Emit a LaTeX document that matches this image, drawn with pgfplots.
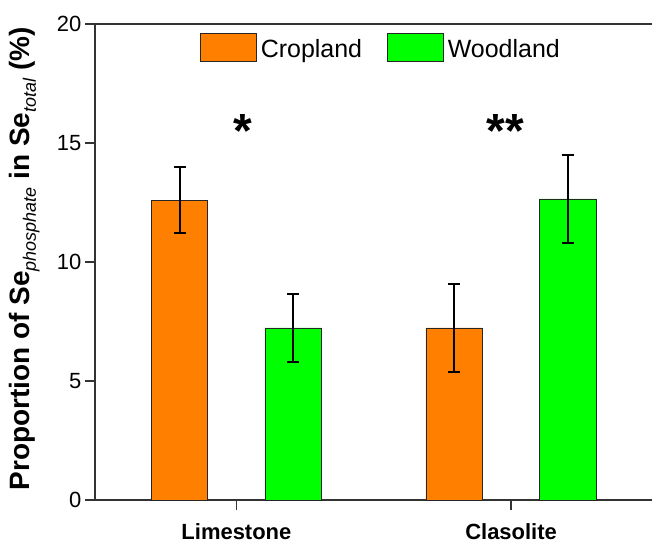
\documentclass[border=0pt]{standalone}
\usepackage{fontspec}
\setmainfont{Liberation Sans}
\usepackage{pgfplots}
\pgfplotsset{compat=1.18}
\definecolor{crop}{HTML}{FF8000}
\definecolor{wood}{HTML}{00FF00}
\begin{document}
\begin{tikzpicture}
\begin{axis}[
  scale only axis, width=558bp, height=476.7bp,
  xmin=-0.5153, xmax=1.514, ymin=0, ymax=20,
  separate axis lines,
  axis x line*=box, axis y line*=left,
  axis line style={line width=1.5bp, color=black!80},
  xtick={0,1}, xticklabels={Limestone,Clasolite},
  xtick pos=left, ytick pos=left,
  tick align=outside, major tick length=10bp,
  tick style={line width=1.5bp, color=black!80},
  ytick={0,5,10,15,20},
  /pgf/number format/assume math mode=true,
  yticklabel style={font=\fontsize{22bp}{26bp}\selectfont},
  xticklabel style={font=\fontsize{22bp}{26bp}\selectfont\bfseries, yshift=-10bp},
  ylabel={Proportion of Se\raisebox{-6bp}{\fontsize{18bp}{18bp}\selectfont\mdseries\itshape phosphate} in Se\raisebox{-6bp}{\fontsize{18bp}{18bp}\selectfont\mdseries\itshape total} (\%)},
  ylabel style={at={(axis description cs:-0.126,0.507)}, anchor=center, font=\fontsize{28bp}{30bp}\selectfont\bfseries},
  legend style={at={(axis description cs:0.515,0.981)}, anchor=north, draw=none, fill=none,
    legend columns=2, font=\fontsize{25bp}{28bp}\selectfont,
    /tikz/every even column/.append style={column sep=21bp}, inner sep=0pt,
    nodes={inner sep=4bp}},
  legend cell align=left,
]
\addplot[ybar, bar width=0.206, bar shift=0pt, fill=crop, draw=black!85, line width=0.8bp,
  legend image code/.code={\draw[fill=crop, draw=black!85, line width=0.8bp] (0bp,-3bp) rectangle (56bp,25bp);},
  error bars/.cd, y dir=both, y explicit,
  error bar style={line width=2bp, black},
  error mark options={rotate=90, mark size=6bp, line width=2bp, black}]
  coordinates {(-0.207,12.6) +- (0,1.4) (0.793,7.23) +- (0,1.85)};
\addlegendentry[xshift=4bp, yshift=9bp]{Cropland}
\addplot[ybar, bar width=0.206, bar shift=0pt, fill=wood, draw=black!85, line width=0.8bp,
  legend image code/.code={\draw[fill=wood, draw=black!85, line width=0.8bp] (0bp,-3bp) rectangle (56bp,25bp);},
  error bars/.cd, y dir=both, y explicit,
  error bar style={line width=2bp, black},
  error mark options={rotate=90, mark size=6bp, line width=2bp, black}]
  coordinates {(0.207,7.23) +- (0,1.44) (1.207,12.65) +- (0,1.86)};
\addlegendentry[xshift=4bp, yshift=9bp]{Woodland}
\node[anchor=base, font=\fontsize{48bp}{48bp}\selectfont\bfseries] at (axis cs:0.024,14.8) {*};
\node[anchor=base, font=\fontsize{48bp}{48bp}\selectfont\bfseries] at (axis cs:0.979,14.8) {**};
\end{axis}
\path (current axis.south west) ++(-95bp,-43.3bp) rectangle ++(653bp,544bp);
\end{tikzpicture}
\end{document}
